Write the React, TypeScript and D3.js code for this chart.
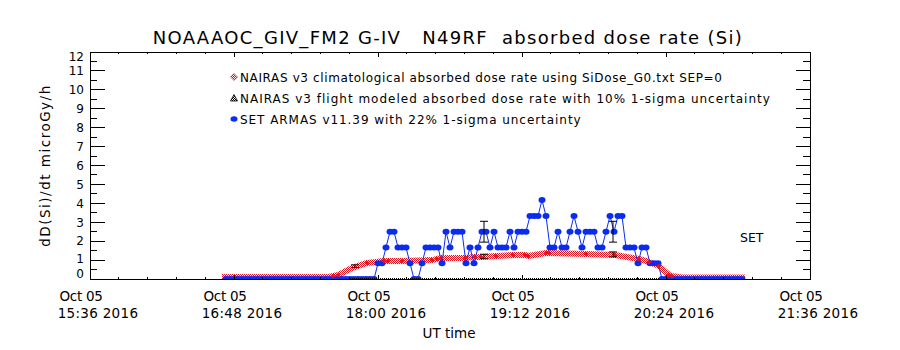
import React from 'react';
import * as d3 from 'd3';

// ---- text ----
const title = 'NOAAAOC_GIV_FM2 G-IV   N49RF  absorbed dose rate (Si)';
const yTitle = 'dD(Si)/dt microGy/h';
const xTitle = 'UT time';
const xTickTimes = ['15:36', '16:48', '18:00', '19:12', '20:24', '21:36'];
const xTickDay = 'Oct 05';
const xTickYear = '2016';
const yTicks = [0, 1, 2, 3, 4, 5, 6, 7, 8, 9, 10, 11, 12];
const legendLabels = [
    'NAIRAS v3 climatological absorbed dose rate using SiDose_G0.txt SEP=0',
    'NAIRAS v3 flight modeled absorbed dose rate with 10% 1-sigma uncertainty',
    'SET ARMAS v11.39 with 22% 1-sigma uncertainty',
];
const sideLabel = 'SET';

// ---- NAIRAS climatological (red) ----
const climTime = ['16:42', '17:35', '17:37:30', '17:40', '17:47', '17:54:30', '18:03', '18:05', '18:12', '18:27',
    '18:29:30', '18:31:30', '18:43:30', '18:48:30', '18:51:30', '18:59', '19:07:30', '19:13:30', '19:15', '19:24',
    '19:25:30', '19:44', '19:58:30', '20:10:30', '20:15:30', '20:20:30', '20:25:30', '20:27', '20:32', '21:03:30'];
const climDose = [0.1, 0.1, 0.16, 0.21, 0.58, 0.85, 0.95, 0.95, 0.95, 1.0,
    1.06, 1.11, 1.11, 1.16, 1.16, 1.22, 1.27, 1.27, 1.22, 1.37,
    1.37, 1.32, 1.27, 1.06, 0.9, 0.69, 0.21, 0.16, 0.08, 0.08];
const climMark = [0, 0, 1, 1, 0, 1, 1, 1, 1, 1,
    1, 1, 1, 1, 1, 1, 1, 1, 1, 1,
    1, 1, 1, 1, 1, 1, 1, 1, 0, 0];

// ---- NAIRAS flight modeled (black) ----
const modelTime = ['17:48:30', '18:53:00', '19:57:30'];
const modelDose = [0.68, 1.19, 1.30];
const modelTrackTime = ['17:46', '20:21'];
const modelTrackDose = [0, 0];

// ---- SET ARMAS (blue) ----
const armasTime = [
    '16:44', '16:46', '16:48', '16:50', '16:52', '16:54', '16:56', '16:58', '17:00', '17:02',
    '17:04', '17:06', '17:08', '17:10', '17:12', '17:14', '17:16', '17:18', '17:20', '17:22',
    '17:24', '17:26', '17:28', '17:30', '17:32', '17:34', '17:36', '17:38', '17:40', '17:42',
    '17:44', '17:46', '17:48', '17:50', '17:52', '17:54', '17:56', '17:58',
    '18:00', '18:02', '18:04', '18:06', '18:08', '18:10', '18:12', '18:14', '18:16', '18:18',
    '18:20', '18:22', '18:24', '18:26', '18:28', '18:30', '18:32', '18:34', '18:36', '18:38',
    '18:40', '18:42', '18:44', '18:46', '18:48', '18:50', '18:52', '18:54', '18:56', '18:58',
    '19:00', '19:02', '19:04', '19:06', '19:08', '19:10', '19:12', '19:14', '19:16', '19:18',
    '19:20', '19:22', '19:24', '19:26', '19:28', '19:30', '19:32', '19:34', '19:36', '19:38',
    '19:40', '19:42', '19:44', '19:46', '19:48', '19:50', '19:52', '19:54', '19:56', '19:58',
    '20:00', '20:02', '20:04', '20:06', '20:08', '20:10', '20:12', '20:14', '20:16', '20:18',
    '20:20', '20:22', '20:24', '20:26', '20:28', '20:30', '20:32', '20:34', '20:36', '20:38',
    '20:40', '20:42', '20:44', '20:46', '20:48', '20:50', '20:52', '20:54', '20:56', '20:58',
    '21:00', '21:02'];
const armasDose = [
    0, 0, 0, 0, 0, 0, 0, 0, 0, 0,
    0, 0, 0, 0, 0, 0, 0, 0, 0, 0,
    0, 0, 0, 0, 0, 0, 0, 0, 0, 0,
    0, 0, 0, 0, 0, 0, 0, 0,
    0.83, 0.83, 1.67, 2.5, 2.5, 1.67, 1.67, 1.67, 0.83, 0,
    0, 0.83, 1.67, 1.67, 1.67, 1.67, 0.83, 2.5, 1.67, 2.5,
    2.5, 2.5, 0.83, 1.67, 0.83, 1.67, 2.5, 2.5, 1.67, 2.5,
    1.67, 1.67, 1.67, 2.5, 1.67, 2.5, 2.5, 2.5, 3.33, 3.33,
    3.33, 4.17, 3.33, 1.67, 1.67, 2.5, 1.67, 1.67, 2.5, 3.33,
    2.5, 1.67, 2.5, 2.5, 2.5, 1.67, 1.67, 2.5, 3.33, 2.5,
    3.33, 3.33, 1.67, 1.67, 1.67, 0.83, 1.67, 1.67, 0.83, 0.83,
    0.83, 0, 0, 0, 0, 0, 0, 0, 0, 0,
    0, 0, 0, 0, 0, 0, 0, 0, 0, 0,
    0, 0];
const armasErrTime = ['18:53:00', '19:57:30'];
const armasErrDose = [2.5, 2.5];

const RED = '#e3101e';
const BLUE = '#0a2cf0';
const FONT = '"DejaVu Sans", "Liberation Sans", sans-serif';

const parseT = d3.timeParse('%H:%M:%S');
const t = (s: string) => parseT(s.length === 5 ? s + ':00' : s) as Date;

interface Pt { t: Date; v: number; }

export default function App() {
    const left = 90, right = 810, top = 52, bottom = 279;

    const x = d3.scaleTime().domain([t('15:36'), t('21:36')]).range([left, right]);
    const y = d3.scaleLinear().domain([0, 12]).range([bottom, top]);

    const clim: Pt[] = climTime.map((s, i) => ({ t: t(s), v: climDose[i] }));
    const armas: Pt[] = armasTime.map((s, i) => ({ t: t(s), v: armasDose[i] }));
    const track: Pt[] = modelTrackTime.map((s, i) => ({ t: t(s), v: modelTrackDose[i] }));

    const line = d3.line<Pt>().x(d => x(d.t)).y(d => y(d.v));

    // axis ticks: 5 minor intervals per major, half-unit minors on y
    const majorX = xTickTimes.map(t);
    const step = (+majorX[1] - +majorX[0]) / 5;
    const minorX = d3.range(0, 26).map(i => new Date(+majorX[0] + i * step));
    const minorY = d3.range(0, 12).map(i => 0.5 + i);

    const errBar = (key: string, cx: number, v: number, frac: number, hw: number) => {
        const y1 = y(v * (1 + frac)), y2 = y(v * (1 - frac));
        return (
            <g key={key} stroke="#000" strokeWidth={1}>
                <line x1={cx} x2={cx} y1={y1} y2={y2} />
                <line x1={cx - hw} x2={cx + hw} y1={y1} y2={y1} />
                <line x1={cx - hw} x2={cx + hw} y1={y2} y2={y2} />
            </g>
        );
    };

    // IDL keeps the end labels inside the axis span
    const yLabelBase = (v: number) => {
        if (v === 0) return 277.5;
        if (v === 1) return 263;
        if (v === 12) return 60.5;
        return y(v) + 4.3;
    };

    return (
        <svg width={900} height={350} style={{ position: 'absolute', left: 0, top: 0, background: '#fff' }}
            fontFamily={FONT}>
            <defs>
                <pattern id="chk" width="2" height="2" patternUnits="userSpaceOnUse">
                    <rect width="2" height="2" fill="#fff" />
                    <rect width="1" height="1" fill={RED} />
                    <rect x="1" y="1" width="1" height="1" fill={RED} />
                </pattern>
                <pattern id="chkBlack" width="2" height="2" patternUnits="userSpaceOnUse">
                    <rect width="2" height="2" fill="#fff" />
                    <rect width="1" height="1" fill="#000" />
                    <rect x="1" y="1" width="1" height="1" fill="#000" />
                </pattern>
                <clipPath id="plot">
                    <rect x={left} y={top} width={right - left} height={bottom - top} />
                </clipPath>
            </defs>
            <rect width={900} height={350} fill="#fff" />

            {/* title */}
            <text x={448} y={44} textAnchor="middle" fontSize={18} letterSpacing={1.3}
                style={{ whiteSpace: 'pre' }}>{title}</text>

            {/* data */}
            <g clipPath="url(#plot)">
                <path d={line(clim) || ''} fill="none" stroke="url(#chk)" strokeWidth={6} strokeLinejoin="round" />
                <path d={line(armas) || ''} fill="none" stroke={BLUE} strokeWidth={1} />
                {armas.map((d, i) => (
                    <ellipse key={'a' + i} cx={x(d.t)} cy={y(d.v)} rx={3.5} ry={3} fill={BLUE} />
                ))}
                {clim.map((d, i) => climMark[i] ? (
                    <path key={'c' + i} transform={`translate(${x(d.t)},${y(d.v)})`}
                        d="M0,-2.5L2.5,0L0,2.5L-2.5,0Z" fill={RED} />
                ) : null)}
                <path d={line(track) || ''} fill="none" stroke="#000" strokeWidth={2} strokeDasharray="1 1" />
                {modelTime.map((s, i) => errBar('m' + i, x(t(s)), modelDose[i], 0.1, 4))}
                {armasErrTime.map((s, i) => errBar('e' + i, x(t(s)), armasErrDose[i], 0.22, 4))}
            </g>

            {/* frame */}
            <rect x={left} y={top} width={right - left} height={bottom - top} fill="none" stroke="#000"
                strokeWidth={1} shapeRendering="crispEdges" />

            {/* ticks */}
            <g stroke="#000" shapeRendering="crispEdges">
                {yTicks.map(v => (
                    <g key={'yt' + v}>
                        <line x1={left} x2={left + 14.5} y1={y(v)} y2={y(v)} />
                        <line x1={right - 14.5} x2={right} y1={y(v)} y2={y(v)} />
                    </g>
                ))}
                {minorY.map(v => (
                    <g key={'ym' + v}>
                        <line x1={left} x2={left + 7} y1={y(v)} y2={y(v)} />
                        <line x1={right - 7} x2={right} y1={y(v)} y2={y(v)} />
                    </g>
                ))}
                {majorX.map((d, i) => (
                    <g key={'xt' + i}>
                        <line x1={x(d)} x2={x(d)} y1={bottom} y2={bottom - 4.5} />
                        <line x1={x(d)} x2={x(d)} y1={top} y2={top + 4.5} />
                    </g>
                ))}
                {minorX.map((d, i) => (
                    <g key={'xm' + i}>
                        <line x1={x(d)} x2={x(d)} y1={bottom} y2={bottom - 2.3} />
                        <line x1={x(d)} x2={x(d)} y1={top} y2={top + 2.3} />
                    </g>
                ))}
            </g>

            {/* y tick labels */}
            {yTicks.map(v => (
                <text key={'yl' + v} x={84} y={yLabelBase(v)} textAnchor="end" fontSize={12}>{v}</text>
            ))}

            {/* x tick labels */}
            {majorX.map((d, i) => (
                <g key={'xl' + i} fontSize={13.5} textAnchor="middle">
                    <text x={x(d) - 9} y={301} letterSpacing={-0.3}>{xTickDay}</text>
                    <text x={x(d) + 8} y={318} letterSpacing={0.3}>{xTickTimes[i] + ' ' + xTickYear}</text>
                </g>
            ))}

            <text x={449} y={338} textAnchor="middle" fontSize={13.5}>{xTitle}</text>
            <text transform={`translate(50,${(top + bottom) / 2}) rotate(-90)`} textAnchor="middle"
                fontSize={13.5} letterSpacing={1.5}>{yTitle}</text>

            {/* legend */}
            <g fontSize={12}>
                <path transform="translate(234,77)" d="M0,-3.5L3.5,0L0,3.5L-3.5,0Z" fill="url(#chk)" stroke={RED}
                    strokeWidth={0.6} />
                <text x={240} y={81.5} letterSpacing={0.63}>{legendLabels[0]}</text>
                <path transform="translate(234,98)" d="M0,-3.5L3.5,3L-3.5,3Z" fill="url(#chkBlack)" stroke="#000"
                    strokeWidth={0.8} />
                <text x={240} y={102.5} letterSpacing={1.0}>{legendLabels[1]}</text>
                <ellipse cx={234} cy={119} rx={3.5} ry={2.8} fill={BLUE} />
                <text x={240} y={123.5} letterSpacing={0.95}>{legendLabels[2]}</text>
            </g>

            <text x={740} y={242} fontSize={12.5}>{sideLabel}</text>
        </svg>
    );
}
